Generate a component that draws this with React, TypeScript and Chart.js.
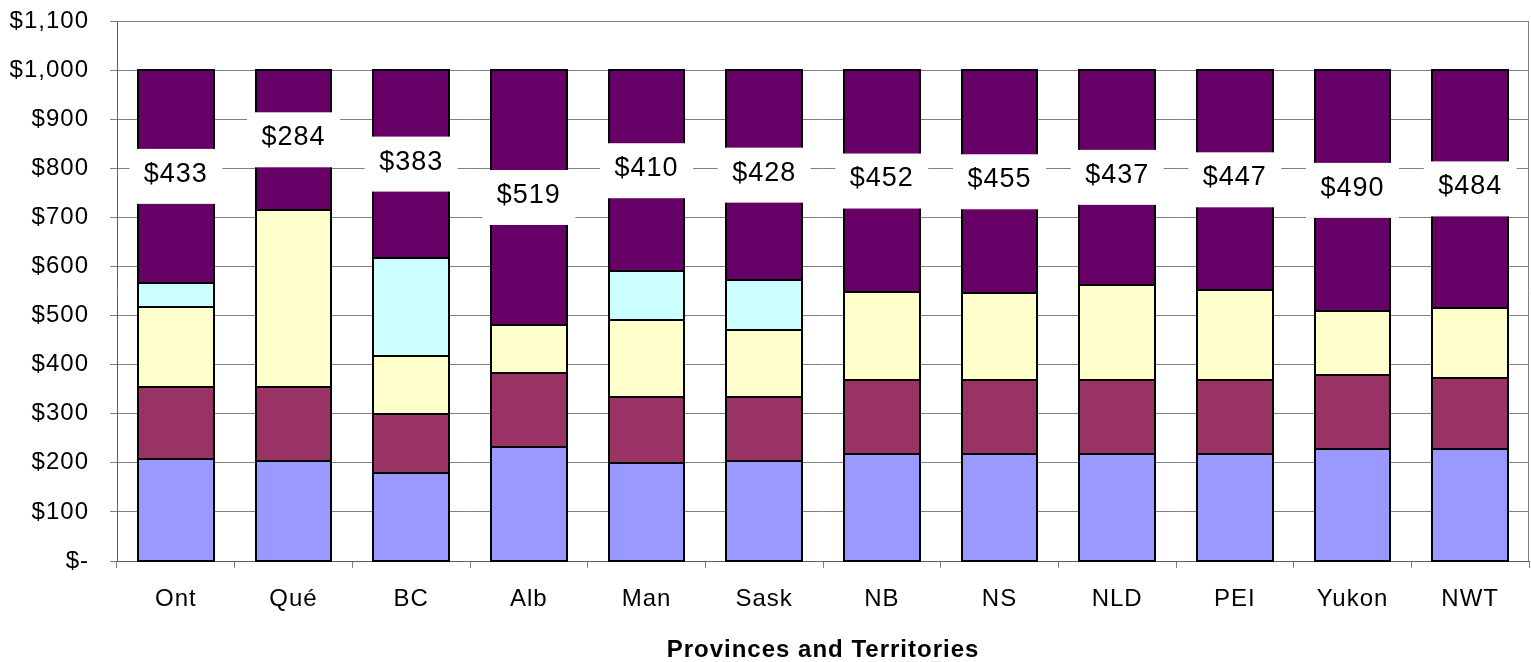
import React, { useEffect, useRef } from 'react';
import { Chart, registerables } from 'chart.js';

Chart.register(...registerables);

const categories = ['Ont', 'Qué', 'BC', 'Alb', 'Man', 'Sask', 'NB', 'NS', 'NLD', 'PEI', 'Yukon', 'NWT'];
const seriesBlue = [207, 203, 179, 232, 199, 203, 218, 218, 218, 218, 228, 228];
const seriesMaroon = [147, 151, 121, 150, 135, 132, 151, 151, 151, 151, 150, 145];
const seriesYellow = [164, 362, 118, 99, 156, 136, 179, 176, 194, 184, 132, 143];
const seriesCyan = [49, 0, 199, 0, 100, 101, 0, 0, 0, 0, 0, 0];
const seriesPurple = [433, 284, 383, 519, 410, 428, 452, 455, 437, 447, 490, 484];
const xTitle = 'Provinces and Territories';

const FONT = "'Liberation Sans', Arial, sans-serif";

const spacingPlugin = {
  id: 'spacing',
  beforeDraw(chart: any) {
    try { (chart.ctx as any).letterSpacing = '1px'; } catch (e) {}
  },
};

const framePlugin = {
  id: 'frame',
  beforeDatasetsDraw(chart: any) {
    const { ctx, chartArea } = chart;
    ctx.save();
    ctx.strokeStyle = '#808080';
    ctx.lineWidth = 1;
    ctx.beginPath();
    ctx.moveTo(chartArea.left, Math.round(chartArea.top) + 0.5);
    ctx.lineTo(Math.round(chartArea.right) - 0.5, Math.round(chartArea.top) + 0.5);
    ctx.lineTo(Math.round(chartArea.right) - 0.5, chartArea.bottom);
    ctx.stroke();
    ctx.restore();
  },
};

const outlinePlugin = {
  id: 'outlines',
  afterDatasetsDraw(chart: any) {
    const { ctx } = chart;
    ctx.save();
    ctx.strokeStyle = '#000000';
    ctx.lineWidth = 2;
    chart.data.datasets.forEach((ds: any, di: number) => {
      const meta = chart.getDatasetMeta(di);
      meta.data.forEach((el: any, i: number) => {
        if (ds.data[i] == null) return;
        const p = el.getProps(['x', 'y', 'base', 'width'], true);
        const l = Math.round(p.x - p.width / 2);
        const r = Math.round(p.x + p.width / 2);
        const t = Math.round(Math.min(p.y, p.base));
        const b = Math.round(Math.max(p.y, p.base));
        ctx.strokeRect(l, t, r - l, b - t);
      });
    });
    ctx.restore();
  },
};

const labelPlugin = {
  id: 'purpleLabels',
  afterDatasetsDraw(chart: any) {
    const { ctx } = chart;
    const meta = chart.getDatasetMeta(4);
    ctx.save();
    meta.data.forEach((el: any, i: number) => {
      const p = el.getProps(['x', 'y', 'base', 'width'], true);
      const cy = (p.y + p.base) / 2;
      const w = p.width + 17;
      const h = 55;
      ctx.fillStyle = '#ffffff';
      ctx.fillRect(p.x - w / 2, cy - h / 2, w, h);
      ctx.fillStyle = '#000000';
      ctx.font = `27px ${FONT}`;
      ctx.textAlign = 'center';
      ctx.textBaseline = 'middle';
      ctx.fillText('$' + seriesPurple[i], p.x, cy - 2);
    });
    ctx.restore();
  },
};

export default function App() {
  const ref = useRef<HTMLCanvasElement | null>(null);

  useEffect(() => {
    if (!ref.current) return;
    const mk = (label: string, data: number[], color: string) => ({
      label,
      data: data.map((v) => (v === 0 ? null : v)),
      backgroundColor: color,
      borderColor: '#000000',
      borderWidth: 0,
      barPercentage: 0.645,
      categoryPercentage: 1,
    });
    const chart = new Chart(ref.current, {
      type: 'bar',
      data: {
        labels: categories,
        datasets: [
          mk('A', seriesBlue, '#9999FF'),
          mk('B', seriesMaroon, '#993366'),
          mk('C', seriesYellow, '#FFFFCC'),
          mk('D', seriesCyan, '#CCFFFF'),
          mk('E', seriesPurple, '#660066'),
        ],
      },
      options: {
        responsive: false,
        animation: false,
        devicePixelRatio: 1,
        layout: { padding: { top: 21, right: 2, left: 0, bottom: 0 } },
        plugins: {
          legend: { display: false },
          tooltip: { enabled: false },
          title: { display: false },
        },
        scales: {
          x: {
            stacked: true,
            offset: true,
            afterFit: (s: any) => { s.height = 101; s.paddingLeft = 0; s.paddingRight = 0; },
            grid: {
              display: true,
              drawOnChartArea: false,
              drawTicks: true,
              tickLength: 7,
              offset: true,
              color: '#808080',
            },
            border: { display: true, color: '#606060', width: 1 },
            ticks: {
              color: '#000000',
              font: { family: FONT, size: 24 },
              padding: 17,
              maxRotation: 0,
              autoSkip: false,
            },
            title: {
              display: true,
              text: xTitle,
              color: '#000000',
              font: { family: FONT, size: 24, weight: 'bold' },
              padding: { top: 0, bottom: -3 },
            },
          },
          y: {
            stacked: true,
            min: 0,
            max: 1100,
            afterFit: (s: any) => { s.width = 117; s.paddingTop = 0; s.paddingBottom = 0; },
            grid: {
              color: '#808080',
              lineWidth: 1,
              tickLength: 7,
              drawTicks: true,
            },
            border: { display: true, color: '#606060', width: 1 },
            ticks: {
              stepSize: 100,
              autoSkip: false,
              color: '#000000',
              font: { family: FONT, size: 24 },
              padding: 21,
              callback: (v: any) => (Number(v) === 0 ? '$-' : '$' + Number(v).toLocaleString('en-US')),
            },
          },
        },
      },
      plugins: [spacingPlugin, framePlugin, outlinePlugin, labelPlugin],
    } as any);
    return () => chart.destroy();
  }, []);

  return (
    <div style={{ position: 'fixed', left: 0, top: 0, width: 1531, height: 662, background: '#fff' }}>
      <canvas ref={ref} width={1531} height={662} style={{ display: 'block' }} />
    </div>
  );
}
